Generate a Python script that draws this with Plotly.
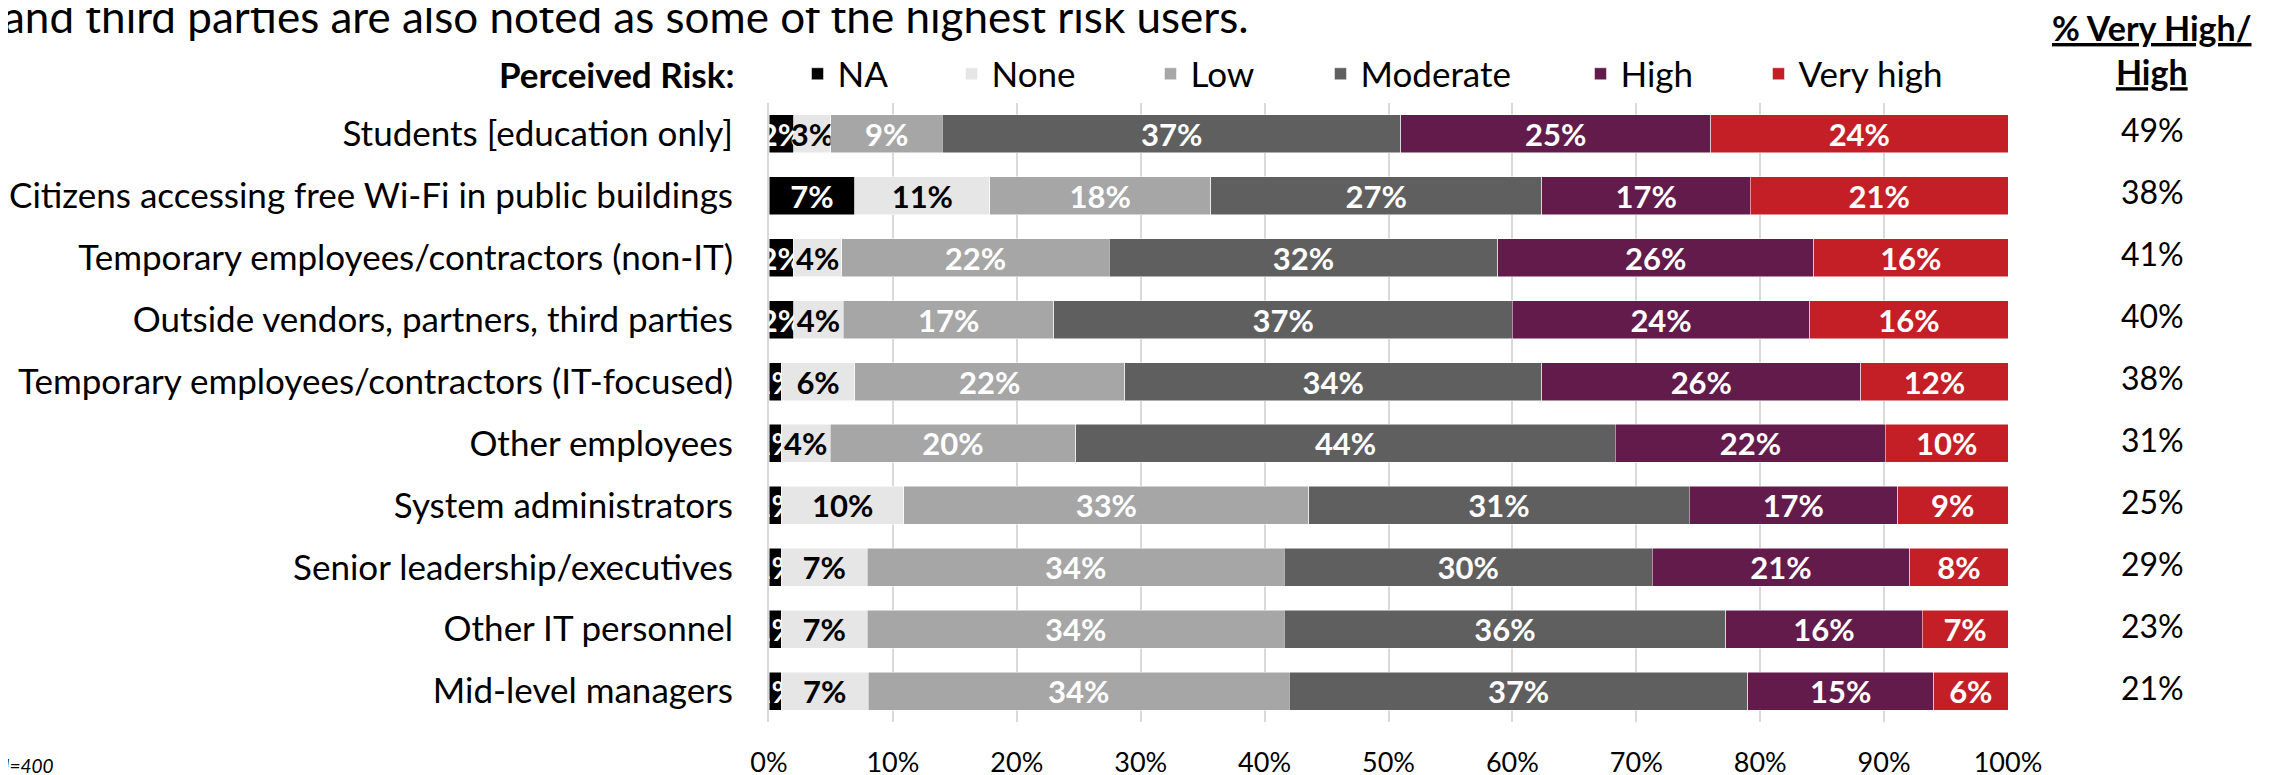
import plotly.graph_objects as go

# user groups, top to bottom
groups = [
    "Students [education only]",
    "Citizens accessing free Wi-Fi in public buildings",
    "Temporary employees/contractors (non-IT)",
    "Outside vendors, partners, third parties",
    "Temporary employees/contractors (IT-focused)",
    "Other employees",
    "System administrators",
    "Senior leadership/executives",
    "Other IT personnel",
    "Mid-level managers",
]

# % of respondents per perceived risk level (as labelled on the bars)
na = [2, 7, 2, 2, 1, 1, 1, 1, 1, 1]
none = [3, 11, 4, 4, 6, 4, 10, 7, 7, 7]
low = [9, 18, 22, 17, 22, 20, 33, 34, 34, 34]
moderate = [37, 27, 32, 37, 34, 44, 31, 30, 36, 37]
high = [25, 17, 26, 24, 26, 22, 17, 21, 16, 15]
very_high = [24, 21, 16, 16, 12, 10, 9, 8, 7, 6]

# right hand column
very_high_high = [49, 38, 41, 40, 38, 31, 25, 29, 23, 21]

x_ticks = [0, 10, 20, 30, 40, 50, 60, 70, 80, 90, 100]

FONT = "Lato"

# the html page adds an 8px body margin, so work in screen pixels minus 8
OFF = 8
W, H = 2277 - OFF, 775 - OFF
L, R, T, B = 769 - OFF, 2277 - 2008, 103 - OFF, 775 - 722


def px_x(px):
    # screen pixel -> paper x
    return (px - OFF - L) / (W - L - R)


def px_y(py):
    # screen pixel -> paper y
    return (H - B - (py - OFF)) / (H - T - B)


series = [
    ("NA", na, "#000000", "white", 815),
    ("None", none, "#e6e6e6", "black", 969),
    ("Low", low, "#a6a6a6", "white", 1168),
    ("Moderate", moderate, "#5f5f5f", "white", 1338),
    ("High", high, "#621b4b", "white", 1598),
    ("Very high", very_high, "#c41f27", "white", 1776),
]

fig = go.Figure()
legends = {}
for i, (name, vals, color, txt_color, leg_px) in enumerate(series):
    leg_id = "legend" if i == 0 else f"legend{i + 1}"
    fig.add_trace(go.Bar(
        y=groups, x=vals, name=name, orientation="h", legend=leg_id,
        showlegend=True,
        marker=dict(color=color, line=dict(color="white", width=0.5)),
        text=vals, texttemplate="%{text}%", textposition="inside", textangle=0,
        insidetextanchor="middle", constraintext="none",
        insidetextfont=dict(family=FONT, size=31, color=txt_color, weight="bold"),
        hoverinfo="skip",
    ))
    legends[leg_id] = dict(
        xref="container", yref="container",
        x=(leg_px - 17.5 - OFF) / W, y=1 - (74 - OFF) / H,
        xanchor="left", yanchor="middle", bgcolor="rgba(0,0,0,0)",
        font=dict(family=FONT, size=35, color="black"),
    )

# % very high / high column
for g, v in zip(groups, very_high_high):
    fig.add_annotation(x=px_x(2152), y=g, xref="paper", yref="y", text=f"{v}%",
                       showarrow=False, xanchor="center", yshift=4,
                       font=dict(family=FONT, size=32, color="black"))

fig.add_annotation(x=px_x(2152), y=px_y(50), xref="paper", yref="paper",
                   text="<b><span style='text-decoration:underline'>% Very High/</span></b><br>"
                        "<b><span style='text-decoration:underline'>High</span></b>",
                   showarrow=False, xanchor="center", yanchor="middle",
                   font=dict(family=FONT, size=34, color="black"))

fig.add_annotation(x=px_x(736), y=px_y(74), xref="paper", yref="paper",
                   text="<b>Perceived Risk:</b>", showarrow=False,
                   xanchor="right", yanchor="middle",
                   font=dict(family=FONT, size=35, color="black"))

fig.add_annotation(x=px_x(1), y=px_y(16), xref="paper", yref="paper",
                   text="and third parties are also noted as some of the highest risk users.",
                   showarrow=False, xanchor="left", yanchor="middle",
                   font=dict(family=FONT, size=44, color="black"))

fig.add_annotation(x=px_x(-6), y=px_y(765), xref="paper", yref="paper",
                   text="<i>N=400</i>", showarrow=False, xanchor="left", yanchor="middle",
                   font=dict(family=FONT, size=19, color="black"))

fig.update_layout(
    width=W, height=H, showlegend=True,
    margin=dict(l=L, r=R, t=T, b=B, autoexpand=False),
    barmode="stack", barnorm="percent", bargap=0.387,
    plot_bgcolor="white", paper_bgcolor="white",
    uniformtext=dict(mode="show", minsize=31),
    font=dict(family=FONT, color="black"),
    xaxis=dict(range=[0, 100], tickvals=x_ticks, ticktext=[f"{t}%" for t in x_ticks],
               showgrid=True, gridcolor="#d9d9d9", gridwidth=2, zeroline=False,
               showline=False, ticks="", ticklabelstandoff=22, automargin=False,
               tickfont=dict(family=FONT, size=27, color="black"), fixedrange=True),
    yaxis=dict(autorange="reversed", showgrid=False, ticks="", ticklabelstandoff=27,
               showline=True, linecolor="#d9d9d9", linewidth=2, automargin=False,
               tickfont=dict(family=FONT, size=35, color="black")),
    **legends,
)

fig.write_html("out.html")
